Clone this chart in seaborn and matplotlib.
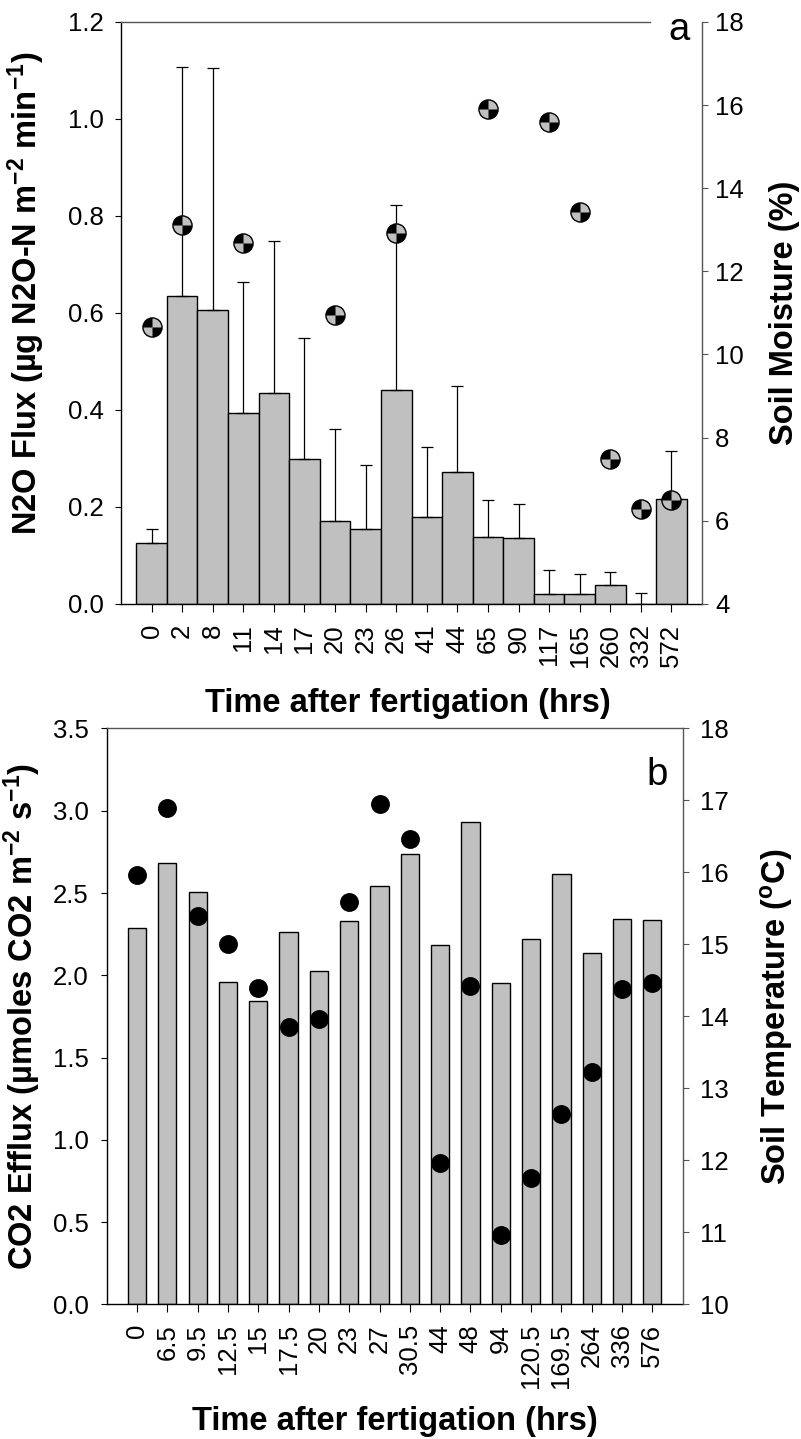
import numpy as np
import pandas as pd
import seaborn as sns
import matplotlib.pyplot as plt
from matplotlib.path import Path

# panel a: N2O flux and soil moisture
hrs_a = ['0', '2', '8', '11', '14', '17', '20', '23', '26', '41', '44', '65',
         '90', '117', '165', '260', '332', '572']
n2o_flux = [0.126, 0.634, 0.605, 0.394, 0.435, 0.298, 0.170, 0.155, 0.442,
            0.180, 0.272, 0.138, 0.136, 0.020, 0.020, 0.039, 0.0, 0.216]
n2o_se = [0.029, 0.473, 0.499, 0.269, 0.313, 0.250, 0.190, 0.131, 0.381,
          0.144, 0.177, 0.077, 0.070, 0.049, 0.042, 0.027, 0.023, 0.099]
soil_moisture = [10.67, 13.11, np.nan, 12.67, np.nan, np.nan, 10.94, np.nan,
                 12.93, np.nan, np.nan, 15.91, np.nan, 15.58, 13.42, 7.49,
                 6.29, 6.51]

# panel b: CO2 efflux and soil temperature
hrs_b = ['0', '6.5', '9.5', '12.5', '15', '17.5', '20', '23', '27', '30.5',
         '44', '48', '94', '120.5', '169.5', '264', '336', '576']
co2_efflux = [2.285, 2.683, 2.507, 1.959, 1.845, 2.261, 2.026, 2.331, 2.542,
              2.736, 2.182, 2.929, 1.954, 2.222, 2.613, 2.133, 2.340, 2.334]
soil_temp = [15.97, 16.89, 15.40, 15.00, 14.39, 13.86, 13.96, 15.59, 16.95,
             16.47, 11.97, 14.42, 10.97, 11.75, 12.64, 13.23, 14.38, 14.47]

sns.set_style('ticks')
plt.rcParams['font.family'] = ['Liberation Sans', 'DejaVu Sans']
plt.rcParams['mathtext.default'] = 'regular'
for k in ['text.color', 'axes.labelcolor', 'xtick.color', 'ytick.color',
          'xtick.labelcolor', 'ytick.labelcolor']:
    plt.rcParams[k] = 'black'

bar_grey = '#c0c0c0'
tick_fs = 18.5
label_fs = 23.5
letter_fs = 27.5

df_a = pd.DataFrame({'hrs': pd.Categorical(hrs_a, categories=hrs_a),
                     'flux': n2o_flux, 'se': n2o_se, 'moist': soil_moisture})
df_b = pd.DataFrame({'hrs': pd.Categorical(hrs_b, categories=hrs_b),
                     'co2': co2_efflux, 'temp': soil_temp})

# checkered marker: black top-left and bottom-right quarters
quad = Path.make_compound_path(Path.wedge(90, 180), Path.wedge(270, 360))

fig = plt.figure(figsize=(8.01, 14.39), dpi=100)


def style_axes(ax, ax2, xpad, lpad, rpad):
    ax.spines['left'].set_color('black')
    ax.spines['bottom'].set_color('black')
    ax.spines['top'].set_color('#555555')
    ax.spines['right'].set_visible(False)
    for s in ['top', 'left', 'bottom']:
        ax2.spines[s].set_visible(False)
    ax2.spines['right'].set_visible(True)
    ax2.spines['right'].set_color('#555555')
    for s in ax.spines.values():
        s.set_linewidth(1.0)
    ax2.spines['right'].set_linewidth(1.0)
    ax.tick_params(axis='x', labelrotation=90, labelsize=tick_fs, length=5.5,
                   width=0.8, pad=xpad, direction='out')
    ax.tick_params(axis='y', labelsize=tick_fs, length=4.5, width=0.8,
                   pad=lpad, direction='out')
    ax2.tick_params(axis='y', labelsize=tick_fs, length=4.5, width=0.8,
                    pad=rpad, direction='out', color='#555555')


# ---------------- panel a ----------------
ax = fig.add_axes([0.1511, 0.5803, 0.7253, 0.4045])
sns.barplot(data=df_a, x='hrs', y='flux', color=bar_grey, saturation=1,
            edgecolor='black', linewidth=1, width=1.0, errorbar=None, ax=ax)
ax.errorbar(x=hrs_a, y=n2o_flux, yerr=[np.zeros(len(n2o_se)), n2o_se],
            fmt='none', ecolor='black', elinewidth=0.9, capsize=4.3,
            capthick=0.9, zorder=3)
ax2 = ax.twinx()
sns.scatterplot(data=df_a, x='hrs', y='moist', ax=ax2, s=190,
                color=bar_grey, edgecolor='black', linewidth=1, zorder=4,
                legend=False)
sns.scatterplot(data=df_a, x='hrs', y='moist', ax=ax2, s=190, marker=quad,
                color='black', linewidth=0, zorder=5, legend=False)

ax.set_xlim(-1, 18)
ax.set_ylim(0, 1.2)
ax2.set_ylim(4, 18)
ax.set_yticks(np.arange(0, 1.21, 0.2))
ax.set_yticklabels(['%.1f' % v for v in np.arange(0, 1.21, 0.2)])
ax2.set_yticks(np.arange(4, 19, 2))
ax.spines['top'].set_bounds(-1, 16.3)
style_axes(ax, ax2, 9, 8, 5)

ax.set_xlabel('Time after fertigation (hrs)', fontsize=label_fs,
              fontweight='bold')
ax.set_ylabel('N2O Flux (µg N2O-N m$^{-2}$ min$^{-1}$)', fontsize=label_fs,
              fontweight='bold')
ax2.set_ylabel('Soil Moisture (%)', fontsize=label_fs, fontweight='bold')
ax.xaxis.set_label_coords(0.493, -0.144)
ax.yaxis.set_label_coords(-0.127, 0.534)
ax2.yaxis.set_label_coords(1.115, 0.5)
ax.text(0.960, 0.968, 'a', transform=ax.transAxes, fontsize=letter_fs,
        ha='center', va='baseline')

# ---------------- panel b ----------------
bx = fig.add_axes([0.1332, 0.0935, 0.7191, 0.4003])
sns.barplot(data=df_b, x='hrs', y='co2', color=bar_grey, saturation=1,
            edgecolor='black', linewidth=1, width=0.6, errorbar=None, ax=bx)
bx2 = bx.twinx()
sns.scatterplot(data=df_b, x='hrs', y='temp', ax=bx2, s=185, color='black',
                linewidth=0, zorder=4, legend=False)

bx.set_xlim(-1, 18)
bx.set_ylim(0, 3.5)
bx2.set_ylim(10, 18)
bx.set_yticks(np.arange(0, 3.51, 0.5))
bx.set_yticklabels(['%.1f' % v for v in np.arange(0, 3.51, 0.5)])
bx2.set_yticks(np.arange(10, 19, 1))
style_axes(bx, bx2, 8.5, 8.5, 8)

bx.set_xlabel('Time after fertigation (hrs)', fontsize=label_fs,
              fontweight='bold')
bx.set_ylabel('CO2 Efflux (µmoles CO2 m$^{-2}$ s$^{-1}$)', fontsize=label_fs,
              fontweight='bold')
bx2.set_ylabel('Soil Temperature ($^{o}$C)', fontsize=label_fs,
               fontweight='bold')
bx.xaxis.set_label_coords(0.5, -0.176)
bx.yaxis.set_label_coords(-0.111, 0.5)
bx2.yaxis.set_label_coords(1.131, 0.5)
bx.text(0.955, 0.9016, 'b', transform=bx.transAxes, fontsize=letter_fs,
        ha='center', va='baseline')

fig.savefig('out.png', dpi=100)
